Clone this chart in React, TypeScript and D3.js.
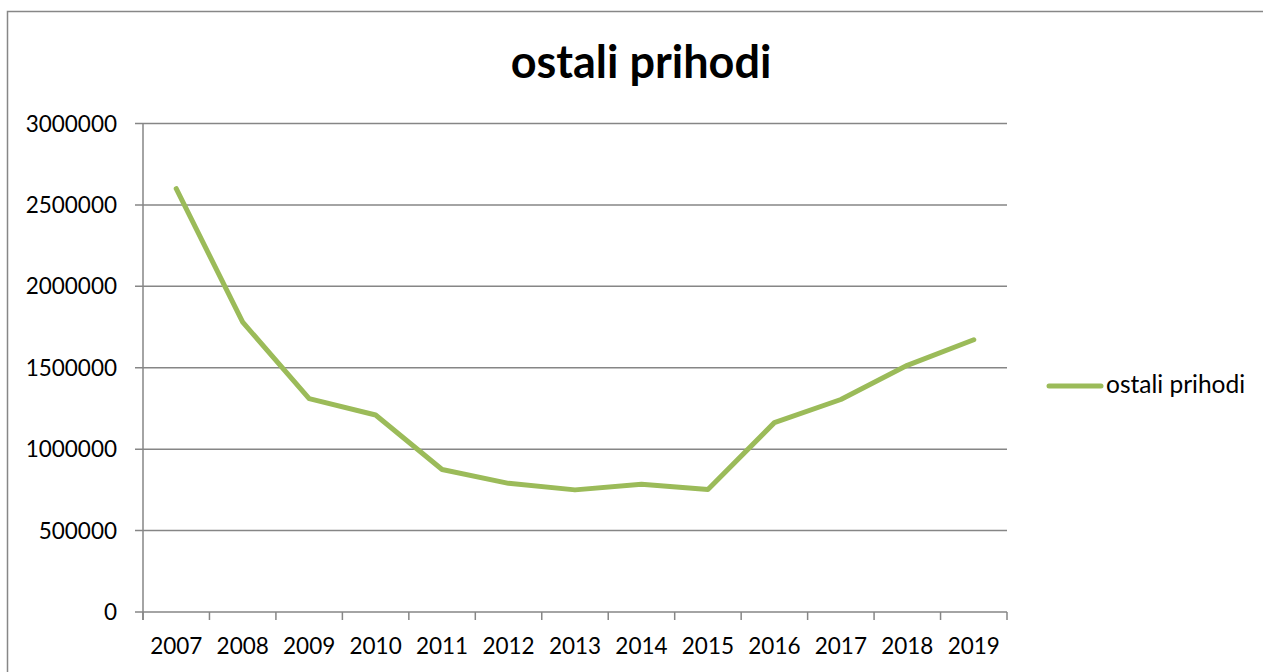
import React from "react";
import * as d3 from "d3";

const years = ["2007","2008","2009","2010","2011","2012","2013","2014","2015","2016","2017","2018","2019"];
const values = [2600000,1780000,1310000,1210000,875000,790000,750000,785000,752000,1163000,1305000,1515000,1672000];
const yTicks = [0,500000,1000000,1500000,2000000,2500000,3000000];
const seriesName = "ostali prihodi";
const title = "ostali prihodi";

export default function App() {
  const W = 1263, H = 672;
  const left = 143, right = 1007, top = 123.5, bottom = 612;
  const x = d3.scaleBand<string>().domain(years).range([left, right]);
  const y = d3.scaleLinear().domain([0, 3000000]).range([bottom, top]);
  const line = d3.line<number>()
    .x((_, i) => (x(years[i]) as number) + x.bandwidth() / 2)
    .y(d => y(d));
  const font = "Lato, 'Open Sans', sans-serif";
  const grid = "#868686";
  return (
    <svg width={W} height={H} style={{ position: "absolute", left: 0, top: 0 }}>
      <rect x={0} y={0} width={W} height={H} fill="#fff" />
      <rect x={7.5} y={11.5} width={W + 10} height={H + 10} fill="none" stroke="#878787" strokeWidth={1.5} />
      <text x={641} y={78} textAnchor="middle" fontFamily={font} fontWeight="bold" fontSize={45} fill="#000">{title}</text>
      {yTicks.map(t => (
        <g key={t}>
          <line x1={left - 8} x2={right} y1={y(t)} y2={y(t)} stroke={grid} strokeWidth={1.5} />
          <text x={117} y={y(t) + 8} textAnchor="end" fontFamily={font} fontSize={22.5} fill="#000">{t}</text>
        </g>
      ))}
      <line x1={left} x2={left} y1={top} y2={bottom + 8} stroke={grid} strokeWidth={1.5} />
      {years.map((yr, i) => (
        <line key={"t" + yr} x1={x(yr) as number} x2={x(yr) as number} y1={bottom} y2={bottom + 8} stroke={grid} strokeWidth={1.5} />
      ))}
      <line x1={right} x2={right} y1={bottom} y2={bottom + 8} stroke={grid} strokeWidth={1.5} />
      {years.map(yr => (
        <text key={"l" + yr} x={(x(yr) as number) + x.bandwidth() / 2} y={654} textAnchor="middle" fontFamily={font} fontSize={22.5} fill="#000">{yr}</text>
      ))}
      <path d={line(values) || ""} fill="none" stroke="#9BBB59" strokeWidth={5} strokeLinejoin="round" strokeLinecap="round" />
      <line x1={1049} x2={1101} y1={386} y2={386} stroke="#9BBB59" strokeWidth={5} strokeLinecap="round" />
      <text x={1106} y={393} fontFamily={font} fontSize={24.5} fill="#000">{seriesName}</text>
    </svg>
  );
}
